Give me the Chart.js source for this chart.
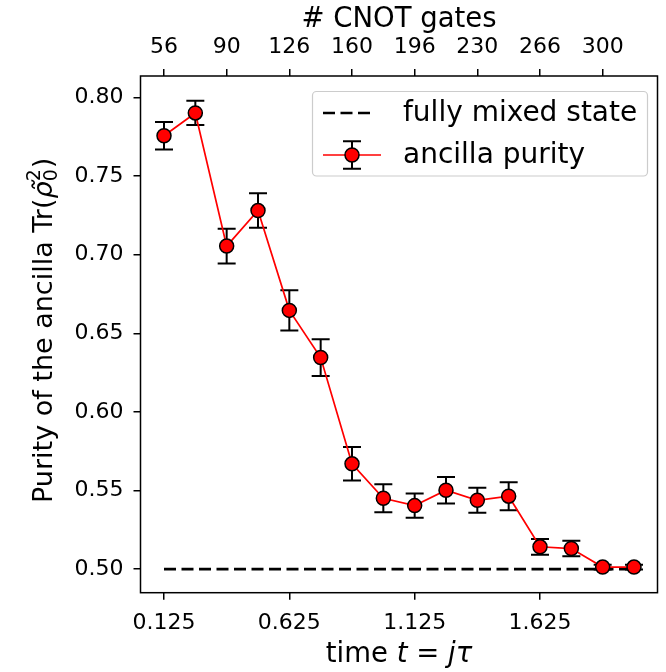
<!DOCTYPE html>
<html>
<head>
<meta charset="utf-8">
<script src="https://cdn.jsdelivr.net/npm/chart.js@4.4.1/dist/chart.umd.min.js"></script>
<style>
  html, body { margin: 0; padding: 0; background: #ffffff; }
  #wrap { width: 666px; height: 672px; }
</style>
</head>
<body>
<div id="wrap"><canvas id="chart"></canvas></div>
<script>
// time steps t = j*tau
const times = [0.125, 0.25, 0.375, 0.5, 0.625, 0.75, 0.875, 1.0,
               1.125, 1.25, 1.375, 1.5, 1.625, 1.75, 1.875, 2.0];
// measured ancilla purity and its error
const purity = [0.7757, 0.7902, 0.7055, 0.7281, 0.6646, 0.6346, 0.5670, 0.5451,
                0.5404, 0.5502, 0.5438, 0.5464, 0.5142, 0.5131, 0.5013, 0.5013];
const purityErr = [0.0088, 0.0077, 0.0110, 0.0110, 0.0128, 0.0117, 0.0107, 0.0089,
                   0.0077, 0.0084, 0.0079, 0.0089, 0.0050, 0.0049, 0.0015, 0.0015];
// fully mixed state reference
const mixedTimes = [0.125, 2.0];
const mixedValue = [0.5, 0.5];

// tick labels
const timeTicks = [0.125, 0.625, 1.125, 1.625];
const timeTickLabels = ['0.125', '0.625', '1.125', '1.625'];
const gateTicks = [0.125, 0.375, 0.625, 0.875, 1.125, 1.375, 1.625, 1.875];
const gateTickLabels = ['56', '90', '126', '160', '196', '230', '266', '300'];
const purityTicks = [0.50, 0.55, 0.60, 0.65, 0.70, 0.75, 0.80];
const purityTickLabels = ['0.50', '0.55', '0.60', '0.65', '0.70', '0.75', '0.80'];

const FONT = '"DejaVu Sans"';
Chart.defaults.font.family = FONT;
Chart.defaults.color = '#000000';

const tickGrid = {
    display: true,
    drawOnChartArea: false,
    drawTicks: true,
    tickLength: 7,
    color: '#000000',
    lineWidth: 1.5,
};

// error bars with caps, drawn through the scales
const errorBars = {
    id: 'errorBars',
    beforeDatasetsDraw(chart) {
        const { ctx } = chart;
        const xs = chart.scales.x, ys = chart.scales.y;
        ctx.save();
        ctx.strokeStyle = '#000000';
        ctx.lineWidth = 2;
        for (let i = 0; i < times.length; i++) {
            const px = xs.getPixelForValue(times[i]);
            const top = ys.getPixelForValue(purity[i] + purityErr[i]);
            const bot = ys.getPixelForValue(purity[i] - purityErr[i]);
            ctx.beginPath();
            ctx.moveTo(px, top); ctx.lineTo(px, bot);
            ctx.moveTo(px - 9, top); ctx.lineTo(px + 9, top);
            ctx.moveTo(px - 9, bot); ctx.lineTo(px + 9, bot);
            ctx.stroke();
        }
        ctx.restore();
    },
};

// frame, axis titles and legend
const decorations = {
    id: 'decorations',
    afterDraw(chart) {
        const { ctx, chartArea: a } = chart;
        ctx.save();
        ctx.strokeStyle = '#000000';
        ctx.lineWidth = 1.5;
        ctx.strokeRect(a.left, a.top, a.right - a.left, a.bottom - a.top);

        const cx = (a.left + a.right) / 2;
        ctx.fillStyle = '#000000';
        ctx.textBaseline = 'alphabetic';

        // top title
        ctx.font = '27.5px ' + FONT;
        ctx.textAlign = 'center';
        ctx.fillText('# CNOT gates', cx, 27);

        // bottom title: time t = jτ
        const parts = [['time ', ''], ['t', 'oblique '], [' = ', ''], ['jτ', 'oblique ']];
        let total = 0;
        parts.forEach(p => { ctx.font = p[1] + '27.5px ' + FONT; total += ctx.measureText(p[0]).width; });
        let x = cx - total / 2;
        ctx.textAlign = 'left';
        parts.forEach(p => {
            ctx.font = p[1] + '27.5px ' + FONT;
            ctx.fillText(p[0], x, 662);
            x += ctx.measureText(p[0]).width;
        });

        // y title: Purity of the ancilla Tr(ρ̃₀²)
        ctx.save();
        ctx.translate(52, (a.top + a.bottom) / 2 - 4);
        ctx.rotate(-Math.PI / 2);
        const main = 'Purity of the ancilla Tr(';
        ctx.font = '27px ' + FONT;
        const w1 = ctx.measureText(main).width;
        const w4 = ctx.measureText(')').width;
        ctx.font = 'oblique 27px ' + FONT;
        const w2 = ctx.measureText('ρ').width;
        ctx.font = '19px ' + FONT;
        const w3 = ctx.measureText('2').width;
        const tw = w1 + w2 + w3 + 1 + w4;
        let y0 = -tw / 2;
        ctx.font = '27px ' + FONT;
        ctx.fillText(main, y0, 0);
        y0 += w1;
        ctx.font = 'oblique 27px ' + FONT;
        ctx.fillText('ρ\u0303', y0, 0);
        y0 += w2;
        ctx.font = '19px ' + FONT;
        ctx.fillText('2', y0, -12);
        ctx.fillText('0', y0, 5);
        y0 += w3 + 1;
        ctx.font = '27px ' + FONT;
        ctx.fillText(')', y0, 0);
        ctx.restore();

        // legend
        ctx.beginPath();
        ctx.roundRect(312.5, 91.5, 335, 84.5, 4);
        ctx.fillStyle = 'rgba(255,255,255,0.8)';
        ctx.fill();
        ctx.strokeStyle = '#cccccc';
        ctx.lineWidth = 1.2;
        ctx.stroke();

        ctx.strokeStyle = '#000000';
        ctx.lineWidth = 2.5;
        ctx.setLineDash([12, 5.5]);
        ctx.beginPath();
        ctx.moveTo(323, 113); ctx.lineTo(373, 113);
        ctx.stroke();
        ctx.setLineDash([]);

        ctx.strokeStyle = '#ff0000';
        ctx.lineWidth = 1.7;
        ctx.beginPath();
        ctx.moveTo(323, 155); ctx.lineTo(381, 155);
        ctx.stroke();
        ctx.strokeStyle = '#000000';
        ctx.lineWidth = 2;
        ctx.beginPath();
        ctx.moveTo(352, 141.2); ctx.lineTo(352, 168.8);
        ctx.moveTo(343, 141.2); ctx.lineTo(361, 141.2);
        ctx.moveTo(343, 168.8); ctx.lineTo(361, 168.8);
        ctx.stroke();
        ctx.beginPath();
        ctx.arc(352, 155, 7, 0, Math.PI * 2);
        ctx.fillStyle = '#ff0000';
        ctx.fill();
        ctx.lineWidth = 1.5;
        ctx.stroke();

        ctx.fillStyle = '#000000';
        ctx.font = '28px ' + FONT;
        ctx.textAlign = 'left';
        ctx.textBaseline = 'middle';
        ctx.fillText('fully mixed state', 403, 114);
        ctx.fillText('ancilla purity', 403, 156);
        ctx.restore();
    },
};

new Chart(document.getElementById('chart'), {
    type: 'line',
    data: {
        datasets: [
            {
                label: 'ancilla purity',
                data: times.map((t, i) => ({ x: t, y: purity[i] })),
                borderColor: '#ff0000',
                borderWidth: 1.7,
                pointRadius: 7,
                pointHoverRadius: 7,
                pointBackgroundColor: '#ff0000',
                pointBorderColor: '#000000',
                pointBorderWidth: 1.5,
                tension: 0,
                order: 1,
            },
            {
                label: 'fully mixed state',
                data: mixedTimes.map((t, i) => ({ x: t, y: mixedValue[i] })),
                borderColor: '#000000',
                borderWidth: 2.7,
                borderDash: [12, 5.5],
                pointRadius: 0,
                order: 2,
            },
        ],
    },
    options: {
        responsive: true,
        maintainAspectRatio: false,
        animation: false,
        layout: { padding: { left: 0, right: 4, top: 0, bottom: 0 } },
        plugins: {
            legend: { display: false },
            tooltip: { enabled: false },
        },
        scales: {
            x: {
                type: 'linear',
                position: 'bottom',
                min: 0.03125,
                max: 2.09375,
                border: { display: false },
                grid: tickGrid,
                afterBuildTicks: (scale) => { scale.ticks = timeTicks.map(v => ({ value: v })); },
                afterFit: (scale) => { scale.height = 79.3; },
                ticks: {
                    autoSkip: false,
                    maxRotation: 0,
                    padding: 10,
                    font: { size: 22 },
                    color: '#000000',
                    callback: (v) => timeTickLabels[timeTicks.indexOf(v)],
                },
            },
            x2: {
                type: 'linear',
                position: 'top',
                min: 0.03125,
                max: 2.09375,
                border: { display: false },
                grid: tickGrid,
                afterBuildTicks: (scale) => { scale.ticks = gateTicks.map(v => ({ value: v })); },
                afterFit: (scale) => { scale.height = 76; },
                ticks: {
                    autoSkip: false,
                    maxRotation: 0,
                    padding: 9,
                    font: { size: 22 },
                    color: '#000000',
                    callback: (v) => gateTickLabels[gateTicks.indexOf(v)],
                },
            },
            y: {
                type: 'linear',
                position: 'left',
                min: 0.485,
                max: 0.8137,
                border: { display: false },
                grid: tickGrid,
                afterBuildTicks: (scale) => { scale.ticks = purityTicks.map(v => ({ value: v })); },
                afterFit: (scale) => { scale.width = 140.5; },
                ticks: {
                    autoSkip: false,
                    padding: 10,
                    font: { size: 22 },
                    color: '#000000',
                    callback: (v) => purityTickLabels[purityTicks.indexOf(v)],
                },
            },
        },
    },
    plugins: [errorBars, decorations],
});
</script>
</body>
</html>
